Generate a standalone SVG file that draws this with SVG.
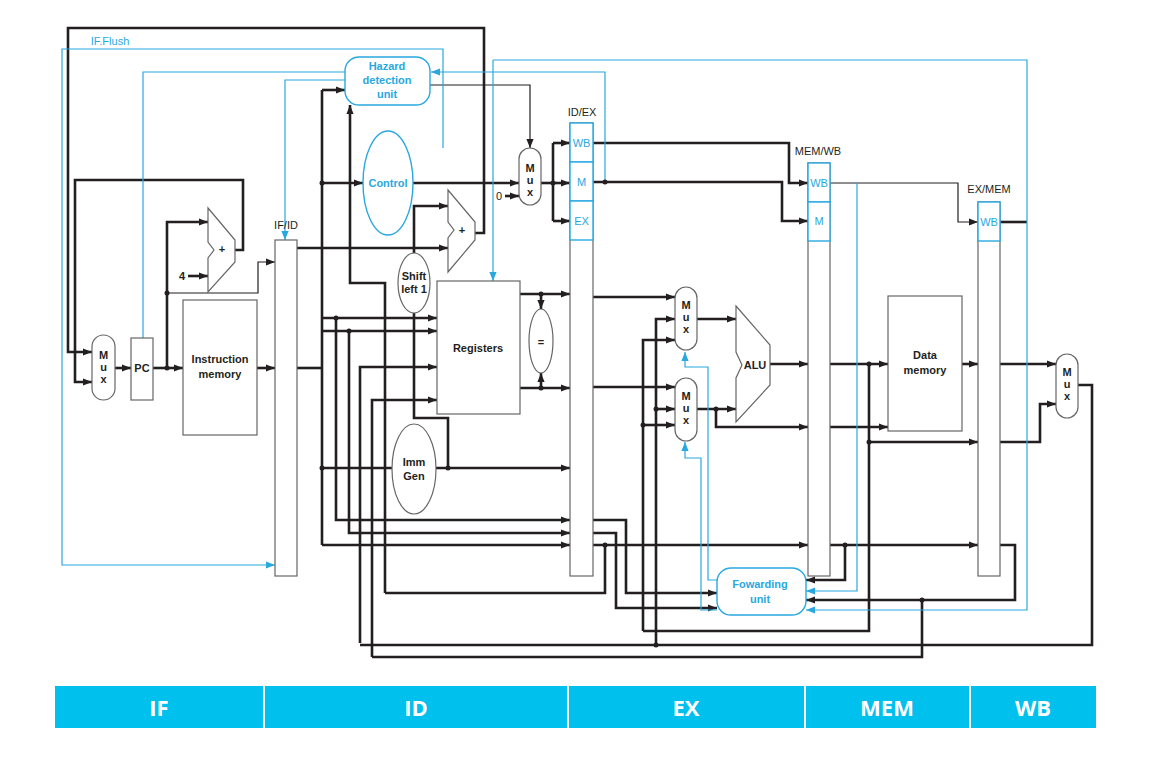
<svg xmlns="http://www.w3.org/2000/svg" width="1164" height="768" viewBox="0 0 1164 768">
<style>
.t{fill:none;stroke:#231f20;stroke-width:2.6}
.n{fill:none;stroke:#231f20;stroke-width:1.2}
.g{fill:none;stroke:#555;stroke-width:1.2}
.b{fill:none;stroke:#29a8e0;stroke-width:1.2}
.box{fill:#fff;stroke:#666;stroke-width:1.2}
.bbox{fill:#fff;stroke:#29a8e0;stroke-width:1.4}
.lbl{font-family:"Liberation Sans",Arial,sans-serif;font-size:11px;fill:#231f20;font-weight:bold;text-anchor:middle}
.blbl{font-family:"Liberation Sans",Arial,sans-serif;font-size:11px;fill:#29a8e0;font-weight:bold;text-anchor:middle}
.bsm{font-family:"Liberation Sans",Arial,sans-serif;font-size:11px;fill:#29a8e0;text-anchor:middle}
.reg{font-family:"Liberation Sans",Arial,sans-serif;font-size:11px;fill:#231f20;text-anchor:middle}
.stage{font-family:"Open Sans","Liberation Sans",sans-serif;font-size:22px;fill:#fff;font-weight:bold;text-anchor:middle}
.dot{fill:#231f20}
</style>
<defs>
<marker id="a" viewBox="0 0 10 10" refX="10" refY="5" markerWidth="9" markerHeight="9" markerUnits="userSpaceOnUse" orient="auto"><path d="M0,1 L10,5 L0,9 z" fill="#231f20"/></marker>
<marker id="ab" viewBox="0 0 10 10" refX="10" refY="5" markerWidth="9" markerHeight="9" markerUnits="userSpaceOnUse" orient="auto"><path d="M0,1 L10,5 L0,9 z" fill="#29a8e0"/></marker>
</defs>
<rect width="1164" height="768" fill="#fff"/>

<g id="connectors">
<!-- IF stage -->
<path class="t" d="M475,233 H484 V28 H68 V352 H92" marker-end="url(#a)"/>
<path class="t" d="M235,250 H243 V180 H75 V382 H92" marker-end="url(#a)"/>
<path class="t" d="M115,368 H131" marker-end="url(#a)"/>
<path class="t" d="M153,368 H183" marker-end="url(#a)"/>
<path class="t" d="M167,368 V222 H208" marker-end="url(#a)"/>
<path class="n" d="M167,293 H258 V262 H275" marker-end="url(#a)"/>
<path class="t" d="M188,276 H208" marker-end="url(#a)"/>
<path class="t" d="M257,368 H275" marker-end="url(#a)"/>
<!-- ID stage -->
<path class="t" d="M297,248 H448" marker-end="url(#a)"/>
<path class="t" d="M297,368 H322"/>
<path class="t" d="M322,90 V545"/>
<path class="t" d="M322,90 H345" marker-end="url(#a)"/>
<path class="t" d="M322,183 H363" marker-end="url(#a)"/>
<path class="t" d="M322,318 H437" marker-end="url(#a)"/>
<path class="t" d="M322,331 H437" marker-end="url(#a)"/>
<path class="t" d="M336,318 V520 H570" marker-end="url(#a)"/>
<path class="t" d="M349,331 V533 H570" marker-end="url(#a)"/>
<path class="t" d="M322,545 H570" marker-end="url(#a)"/>
<path class="t" d="M322,468 H392"/>
<path class="t" d="M436,468 H570" marker-end="url(#a)"/>
<path class="t" d="M448,468 V418 H414 V313"/>
<path class="t" d="M414,253 V206 H448" marker-end="url(#a)"/>
<path class="t" d="M385,593 V283 H350 V105" marker-end="url(#a)"/>
<path class="t" d="M385,593 H605 V545"/>
<path class="t" d="M360,643 V367 H437" marker-end="url(#a)"/>
<path class="t" d="M372,657 V400 H437" marker-end="url(#a)"/>
<path class="t" d="M413,183 H519" marker-end="url(#a)"/>
<path class="t" d="M505,196 H519" marker-end="url(#a)"/>
<path class="n" d="M430,85 H530 V148" marker-end="url(#a)"/>
<path class="t" d="M541,183 H553"/>
<path class="t" d="M553,143 V221"/>
<path class="t" d="M553,143 H570" marker-end="url(#a)"/>
<path class="t" d="M553,183 H570" marker-end="url(#a)"/>
<path class="t" d="M553,221 H570" marker-end="url(#a)"/>
<path class="t" d="M520,294 H570" marker-end="url(#a)"/>
<path class="t" d="M520,388 H570" marker-end="url(#a)"/>
<path class="t" d="M541,294 V309" marker-end="url(#a)"/>
<path class="t" d="M541,388 V373" marker-end="url(#a)"/>
<!-- EX stage -->
<path class="t" d="M593,143 H789 V183 H808" marker-end="url(#a)"/>
<path class="t" d="M593,182 H782 V221 H808" marker-end="url(#a)"/>
<path class="t" d="M593,297 H675" marker-end="url(#a)"/>
<path class="t" d="M593,387 H675" marker-end="url(#a)"/>
<path class="t" d="M656,645 V319 H675" marker-end="url(#a)"/>
<path class="t" d="M643,631 V340 H675" marker-end="url(#a)"/>
<path class="t" d="M656,409 H675" marker-end="url(#a)"/>
<path class="t" d="M643,425 H675" marker-end="url(#a)"/>
<path class="t" d="M697,319 H736" marker-end="url(#a)"/>
<path class="t" d="M697,409 H736" marker-end="url(#a)"/>
<path class="t" d="M716,409 V427 H808" marker-end="url(#a)"/>
<path class="t" d="M770,364 H808" marker-end="url(#a)"/>
<path class="t" d="M593,520 H626 V593 H717" marker-end="url(#a)"/>
<path class="t" d="M593,533 H616 V608 H717" marker-end="url(#a)"/>
<path class="t" d="M593,545 H808" marker-end="url(#a)"/>
<!-- MEM stage -->
<path class="t" d="M830,364 H888" marker-end="url(#a)"/>
<path class="t" d="M830,427 H888" marker-end="url(#a)"/>
<path class="t" d="M869,364 V631 H643"/>
<path class="t" d="M869,442 H978" marker-end="url(#a)"/>
<path class="t" d="M962,364 H978" marker-end="url(#a)"/>
<path class="t" d="M830,545 H978" marker-end="url(#a)"/>
<path class="t" d="M845,545 V580 H806" marker-end="url(#a)"/>
<path class="n" d="M830,183 H958 V222 H978" marker-end="url(#a)"/>
<!-- WB stage -->
<path class="t" d="M1000,364 H1056" marker-end="url(#a)"/>
<path class="t" d="M1000,442 H1040 V404 H1056" marker-end="url(#a)"/>
<path class="t" d="M1078,385 H1092 V645 H360"/>
<path class="t" d="M1000,545 H1015 V600 H806" marker-end="url(#a)"/>
<path class="t" d="M922,600 V657 H372"/>
<path class="t" d="M1000,222 H1027"/>
<!-- blue control -->
<path class="b" d="M443,148 V49 H62 V565 H275" marker-end="url(#ab)"/>
<path class="b" d="M345,72 H143 V338"/>
<path class="b" d="M345,80 H285 V240" marker-end="url(#ab)"/>
<path class="b" d="M605,182 V72 H431" marker-end="url(#ab)"/>
<path class="b" d="M493,60 V281" marker-end="url(#ab)"/>
<path class="b" d="M493,60 H1027 V610 H806" marker-end="url(#ab)"/>
<path class="b" d="M857,183 V591 H806" marker-end="url(#ab)"/>
<path class="b" d="M717,580 H708 V367 H685 V352" marker-end="url(#ab)"/>
<path class="b" d="M717,610 H701 V458 H685 V442" marker-end="url(#ab)"/>
<!-- dots -->
<g class="dot">
<circle cx="167" cy="368" r="2.5"/><circle cx="167" cy="293" r="2.5"/>
<circle cx="322" cy="183" r="2.5"/><circle cx="336" cy="318" r="2.5"/><circle cx="349" cy="331" r="2.5"/>
<circle cx="322" cy="468" r="2.5"/><circle cx="448" cy="468" r="2.5"/><circle cx="553" cy="183" r="2.5"/>
<circle cx="541" cy="294" r="2.5"/><circle cx="541" cy="388" r="2.5"/><circle cx="605" cy="545" r="2.5"/>
<circle cx="605" cy="182" r="2.5"/><circle cx="656" cy="409" r="2.5"/><circle cx="643" cy="425" r="2.5"/>
<circle cx="656" cy="645" r="2.5"/><circle cx="716" cy="409" r="2.5"/><circle cx="869" cy="364" r="2.5"/>
<circle cx="869" cy="442" r="2.5"/><circle cx="845" cy="545" r="2.5"/><circle cx="922" cy="600" r="2.5"/>
</g>
</g>

<g id="if-flush"><text x="110" y="45" class="bsm" font-weight="normal">IF.Flush</text></g>

<g id="mux-pc"><rect x="92" y="335" width="23" height="65" rx="11.5" class="box"/>
<text class="lbl" x="103.5" y="359" font-size="10">M</text><text class="lbl" x="103.5" y="371" font-size="10">u</text><text class="lbl" x="103.5" y="383" font-size="10">x</text></g>
<g id="pc"><rect x="131" y="338" width="22" height="62" class="box"/><text class="lbl" x="142" y="372">PC</text></g>
<g id="imem"><rect x="183" y="300" width="74" height="135" class="box"/><text class="lbl" x="220" y="363">Instruction</text><text class="lbl" x="220" y="378">memory</text></g>
<g id="adder1"><polygon points="208,208 235,240 235,262 208,292 208,258 214,250 208,242" class="box"/><text class="lbl" x="222" y="253">+</text><text class="lbl" x="182" y="280">4</text></g>
<g id="ifid"><text class="reg" x="286" y="229">IF/ID</text><rect x="275" y="240" width="22" height="336" class="box"/></g>
<g id="hazard"><rect x="345" y="57" width="85" height="48" rx="14" class="bbox"/><text class="blbl" x="387" y="70">Hazard</text><text class="blbl" x="387" y="84">detection</text><text class="blbl" x="387" y="98">unit</text></g>
<g id="control"><ellipse cx="388" cy="183" rx="25" ry="52" class="bbox"/><text class="blbl" x="388" y="187">Control</text></g>
<g id="adder2"><polygon points="448,190 475,222 475,240 448,272 448,238 454,230 448,222" class="box"/><text class="lbl" x="462" y="234">+</text></g>
<g id="mux-ctrl"><rect x="519" y="148" width="22" height="57" rx="11" class="box"/><text class="lbl" x="530" y="172" font-size="10">M</text><text class="lbl" x="530" y="184" font-size="10">u</text><text class="lbl" x="530" y="196" font-size="10">x</text><text class="reg" x="499" y="200">0</text></g>
<g id="shift"><ellipse cx="414" cy="283" rx="16" ry="30" class="box"/><text class="lbl" x="414" y="280">Shift</text><text class="lbl" x="414" y="293">left 1</text></g>
<g id="registers"><rect x="437" y="281" width="83" height="133" class="box"/><text class="lbl" x="478" y="352">Registers</text></g>
<g id="equal"><ellipse cx="541" cy="341" rx="12" ry="32" class="box"/><text class="lbl" x="541" y="346" font-size="14">=</text></g>
<g id="immgen"><ellipse cx="414" cy="469" rx="22" ry="45" class="box"/><text class="lbl" x="414" y="466">Imm</text><text class="lbl" x="414" y="480">Gen</text></g>
<g id="idex"><text class="reg" x="582" y="116">ID/EX</text><rect x="570" y="123" width="23" height="453" class="box"/>
<rect x="570" y="123" width="23" height="39" class="bbox"/><rect x="570" y="162" width="23" height="39" class="bbox"/><rect x="570" y="201" width="23" height="39" class="bbox"/>
<text class="bsm" x="581.5" y="147">WB</text><text class="bsm" x="581.5" y="186">M</text><text class="bsm" x="581.5" y="225">EX</text></g>
<g id="mux-a"><rect x="675" y="287" width="22" height="63" rx="11" class="box"/><text class="lbl" x="686" y="309" font-size="10">M</text><text class="lbl" x="686" y="321" font-size="10">u</text><text class="lbl" x="686" y="333" font-size="10">x</text></g>
<g id="mux-b"><rect x="675" y="378" width="22" height="63" rx="11" class="box"/><text class="lbl" x="686" y="400" font-size="10">M</text><text class="lbl" x="686" y="412" font-size="10">u</text><text class="lbl" x="686" y="424" font-size="10">x</text></g>
<g id="alu"><polygon points="736,306 770,345 770,385 736,422 736,378 742,365 736,352" class="box"/><text class="lbl" x="755" y="369">ALU</text></g>
<g id="memwb"><text class="reg" x="818" y="155">MEM/WB</text><rect x="808" y="163" width="22" height="413" class="box"/>
<rect x="808" y="163" width="22" height="39" class="bbox"/><rect x="808" y="202" width="22" height="39" class="bbox"/>
<text class="bsm" x="819" y="187">WB</text><text class="bsm" x="819" y="225">M</text></g>
<g id="dmem"><rect x="888" y="296" width="74" height="135" class="box"/><text class="lbl" x="925" y="359">Data</text><text class="lbl" x="925" y="374">memory</text></g>
<g id="exmem"><text class="reg" x="989" y="193">EX/MEM</text><rect x="978" y="202" width="22" height="374" class="box"/>
<rect x="978" y="202" width="22" height="39" class="bbox"/><text class="bsm" x="989" y="226">WB</text></g>
<g id="mux-wb"><rect x="1056" y="354" width="22" height="64" rx="11" class="box"/><text class="lbl" x="1067" y="376" font-size="10">M</text><text class="lbl" x="1067" y="388" font-size="10">u</text><text class="lbl" x="1067" y="400" font-size="10">x</text></g>
<g id="forwarding"><rect x="717" y="568" width="89" height="47" rx="14" class="bbox"/><text class="blbl" x="760" y="588">Fowarding</text><text class="blbl" x="760" y="603">unit</text></g>

<g id="stages">
<rect x="55" y="686" width="208" height="42" fill="#00c0ee"/><text class="stage" x="159" y="716">IF</text>
<rect x="265" y="686" width="302" height="42" fill="#00c0ee"/><text class="stage" x="416" y="716">ID</text>
<rect x="569" y="686" width="235" height="42" fill="#00c0ee"/><text class="stage" x="686" y="716">EX</text>
<rect x="806" y="686" width="163" height="42" fill="#00c0ee"/><text class="stage" x="887" y="716">MEM</text>
<rect x="971" y="686" width="125" height="42" fill="#00c0ee"/><text class="stage" x="1033" y="716">WB</text>
</g>
</svg>
